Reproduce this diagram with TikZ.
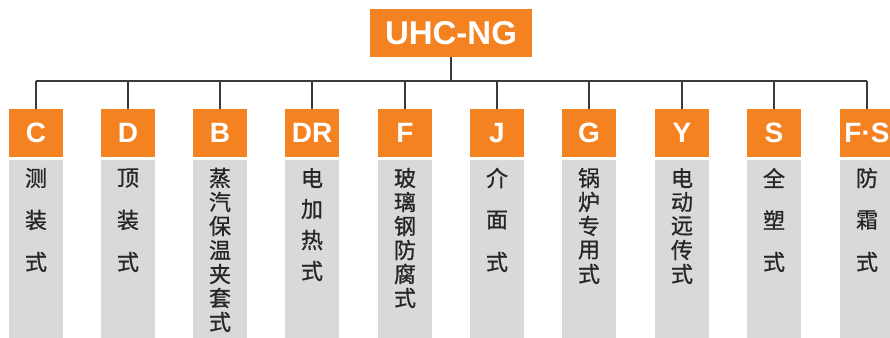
\documentclass[tikz,border=0pt]{standalone}
\usepackage{fontspec}
\setmainfont{Liberation Sans}
\newfontfamily\cjk[FakeBold=0.8]{Noto Sans CJK SC}
\definecolor{orng}{HTML}{F58220}
\definecolor{gry}{HTML}{D9D9DB}
\definecolor{ink}{HTML}{262626}
\definecolor{wire}{HTML}{3A3A3A}
\tikzset{
  orangebox/.style={fill=orng,minimum width=54pt,minimum height=48pt,inner sep=0pt,text=white,font=\fontsize{28}{30}\selectfont\bfseries},
  greybox/.style={fill=gry,minimum width=54pt,minimum height=180pt,inner sep=0pt,anchor=north},
  cjkchar/.style={inner sep=0pt,text=ink,font=\cjk\fontsize{22}{24}\selectfont},
  conn/.style={draw=wire,line width=1.2pt},
  topbox/.style={fill=orng,minimum width=162pt,minimum height=48pt,inner sep=0pt,text=white,font=\fontsize{33}{35}\selectfont\bfseries}
}
\newcommand\mkcol[5]{%
  \node[orangebox] (#1) at (#2pt,-133pt) {#3};
  \node[greybox] (#1g) at (#2pt,-160pt) {};
  \foreach \c [count=\i] in {#5} {\node[cjkchar] (#1c\i) at (#2pt,{-178pt-(\i-1)*#4pt}) {\c};}
  \draw[conn] (#1.north) -- (#1.north |- bar);
}
\begin{document}
\begin{tikzpicture}[x=1pt,y=1pt]
\useasboundingbox (0,0) rectangle (890,-337);
\clip (0,0) rectangle (890,-337);
\node[topbox] (top) at (451,-33) {UHC-NG};
\coordinate (bar) at (450,-81);
\coordinate (barl) at (36,-81);
\coordinate (barr) at (867,-81);
\draw[conn] (top.south) -- (top.south |- bar);
\draw[conn] (barl) -- (barr);
\mkcol{C}{36}{C}{42}{测,装,式}
\mkcol{D}{128}{D}{42}{顶,装,式}
\mkcol{B}{220}{B}{24}{蒸,汽,保,温,夹,套,式}
\mkcol{DR}{312}{DR}{31}{电,加,热,式}
\mkcol{F}{405}{F}{24}{玻,璃,钢,防,腐,式}
\mkcol{J}{497}{J}{42}{介,面,式}
\mkcol{G}{589}{G}{24}{锅,炉,专,用,式}
\mkcol{Y}{682}{Y}{24}{电,动,远,传,式}
\mkcol{S}{774}{S}{42}{全,塑,式}
\mkcol{FS}{867}{F·S}{42}{防,霜,式}
\end{tikzpicture}
\end{document}
